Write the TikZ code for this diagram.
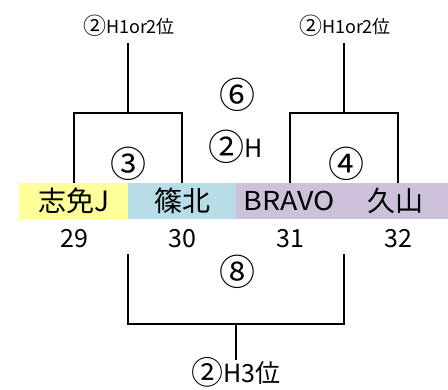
\documentclass[tikz,border=0pt]{standalone}
\usepackage{fontspec}
\setmainfont{Noto Sans CJK JP}
\newfontfamily\latinfont[FakeStretch=1.1]{Noto Sans CJK JP}
\usetikzlibrary{positioning}

\definecolor{cellyellow}{RGB}{255,255,153}
\definecolor{cellblue}{RGB}{183,221,232}
\definecolor{cellpurple}{RGB}{204,192,218}

\tikzset{
  cell/.style={rectangle, minimum height=36pt, inner sep=0pt, font=\fontsize{28}{28}\selectfont},
  num/.style={font=\fontsize{25}{25}\selectfont, inner sep=0pt, anchor=base},
  circ/.style={font=\fontsize{36}{36}\selectfont, inner sep=0pt},
  rank/.style={font=\fontsize{18}{18}\selectfont, inner sep=0pt, anchor=base},
  line/.style={line width=2pt}
}

\begin{document}
\begin{tikzpicture}[x=1pt,y=-1pt]
  \useasboundingbox (0,0) rectangle (448,389);

  % teams
  \node[cell, fill=cellyellow, minimum width=109pt] (t29) at (73.5,201) {志免J};
  \node[cell, fill=cellblue, minimum width=108pt] (t30) at (182,201) {篠北};
  \node[cell, fill=cellpurple, minimum width=106pt] (t31) at (289,201) {\latinfont\fontsize{26}{26}\selectfont BRAVO};
  \node[cell, fill=cellpurple, minimum width=106pt] (t32) at (395,201) {久山};

  % numbers
  \node[num] (n29) at (74,247) {29};
  \node[num] (n30) at (182,247) {30};
  \node[num] (n31) at (290,247) {31};
  \node[num] (n32) at (398,247) {32};

  % match labels
  \node[circ] (m3) at (128,163.5) {③};
  \node[circ] (m4) at (346,163.5) {④};
  \node[circ] (m6) at (237.5,94.5) {⑥};
  \node[circ, anchor=base] (m2h) at (236,157) {\raisebox{-3.8pt}{②}\fontsize{25}{25}\selectfont H};
  \node[circ] (m8) at (237,271.5) {⑧};

  \node[rank] (r1) at (129,33) {\raisebox{-1.6pt}{\fontsize{23}{23}\selectfont ②}H1or2位};
  \node[rank] (r2) at (345,33) {\raisebox{-1.6pt}{\fontsize{23}{23}\selectfont ②}H1or2位};
  \node[rank] (r3) at (236,382) {\raisebox{-2.4pt}{\fontsize{32}{32}\selectfont ②}\fontsize{25}{25}\selectfont H3位};

  % bracket corners
  \coordinate (top1) at (128,113);
  \coordinate (top2) at (344,113);
  \coordinate (bot) at (236,324);
  \coordinate (b30) at (128,254);
  \coordinate (b31) at (344,254);

  \draw[line] (t29.north -| n29) |- (top1) -| (t30.north -| n30);
  \draw[line] (t31.north -| n31) |- (top2) -| (t32.north -| n32);
  \draw[line] (top1) -- (top1 |- 0,43);
  \draw[line] (top2) -- (top2 |- 0,43);

  \draw[line] (b30) |- (bot) -| (b31);
  \draw[line] (bot) -- (bot |- 0,360);
\end{tikzpicture}
\end{document}
